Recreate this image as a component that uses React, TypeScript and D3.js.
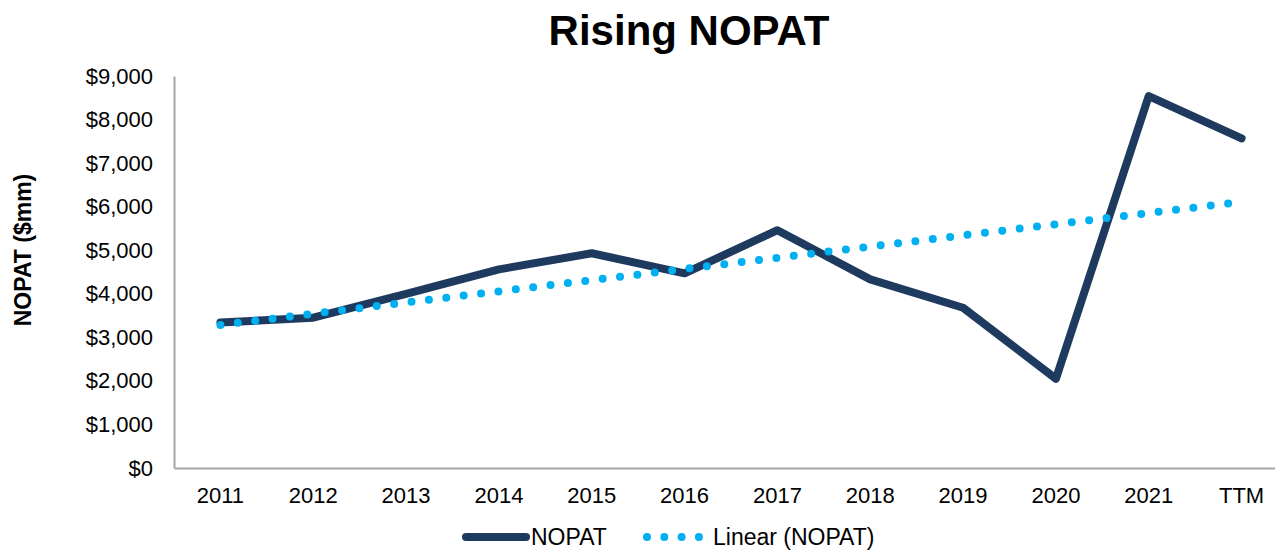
import React, { useEffect, useRef } from 'react';
import * as d3 from 'd3';

// NOPAT by fiscal year ($mm)
const years = ['2011', '2012', '2013', '2014', '2015', '2016', '2017', '2018', '2019', '2020', '2021', 'TTM'];
const nopat = [3340, 3450, 4000, 4560, 4930, 4470, 5460, 4330, 3680, 2050, 8540, 7570];
const yTicks = [0, 1000, 2000, 3000, 4000, 5000, 6000, 7000, 8000, 9000];

const W = 1275;
const H = 552;

const App = () => {
  const svgRef = useRef<SVGSVGElement>(null);

  useEffect(() => {
    const svg = d3.select(svgRef.current);
    svg.selectAll('*').remove();

    const left = 174;
    const right = 1288;
    const top = 76;
    const bottom = 468;
    const font = 'Liberation Sans, Arial, sans-serif';

    const x = d3.scaleBand().domain(years).range([left, right]);
    const cx = (d: string) => (x(d) as number) + x.bandwidth() / 2;
    const y = d3.scaleLinear().domain([0, 9000]).range([bottom, top]);

    // title
    svg.append('text')
      .attr('x', 689).attr('y', 45)
      .attr('text-anchor', 'middle')
      .attr('font-family', font).attr('font-weight', 'bold').attr('font-size', 42)
      .text('Rising NOPAT');

    // axes
    const yAxis = svg.append('g')
      .attr('transform', `translate(${left},0)`)
      .call(d3.axisLeft(y).tickValues(yTicks).tickSize(0).tickPadding(21)
        .tickFormat(d => '$' + d3.format(',')(d as number)));
    yAxis.select('.domain').attr('stroke', '#a6a6a6').attr('stroke-width', 2);
    yAxis.selectAll('text').attr('font-family', font).attr('font-size', 22).attr('fill', '#000');

    const xAxis = svg.append('g')
      .attr('transform', `translate(0,${bottom})`)
      .call(d3.axisBottom(x).tickSize(0).tickPadding(19));
    xAxis.select('.domain').attr('stroke', '#a6a6a6').attr('stroke-width', 2);
    xAxis.selectAll('text').attr('font-family', font).attr('font-size', 22).attr('fill', '#000');

    // y-axis title
    svg.append('text')
      .attr('transform', 'translate(31,250) rotate(-90)')
      .attr('text-anchor', 'middle')
      .attr('font-family', font).attr('font-weight', 'bold').attr('font-size', 23)
      .text('NOPAT ($mm)');

    // NOPAT line
    const line = d3.line<number>()
      .x((_, i) => cx(years[i]))
      .y(d => y(d));
    svg.append('path')
      .datum(nopat)
      .attr('d', line)
      .attr('fill', 'none')
      .attr('stroke', '#1f3a5f')
      .attr('stroke-width', 8)
      .attr('stroke-linejoin', 'round')
      .attr('stroke-linecap', 'round');

    // linear trendline (least squares on the NOPAT series)
    const idx = nopat.map((_, i) => i);
    const mx = d3.mean(idx) as number;
    const my = d3.mean(nopat) as number;
    const slope = d3.sum(idx, i => (i - mx) * (nopat[i] - my)) / d3.sum(idx, i => (i - mx) ** 2);
    const trend = idx.map(i => my + slope * (i - mx));
    svg.append('path')
      .datum(trend)
      .attr('d', line)
      .attr('fill', 'none')
      .attr('stroke', '#00b0f0')
      .attr('stroke-width', 8)
      .attr('stroke-linecap', 'round')
      .attr('stroke-dasharray', '0 17.5');

    // legend
    const lg = svg.append('g');
    lg.append('line')
      .attr('x1', 466).attr('x2', 526).attr('y1', 537).attr('y2', 537)
      .attr('stroke', '#1f3a5f').attr('stroke-width', 8).attr('stroke-linecap', 'round');
    lg.append('text')
      .attr('x', 531).attr('y', 545)
      .attr('font-family', font).attr('font-size', 23)
      .text('NOPAT');
    lg.append('line')
      .attr('x1', 647).attr('x2', 700).attr('y1', 537).attr('y2', 537)
      .attr('stroke', '#00b0f0').attr('stroke-width', 8).attr('stroke-linecap', 'round')
      .attr('stroke-dasharray', '0 17.3');
    lg.append('text')
      .attr('x', 713).attr('y', 545)
      .attr('font-family', font).attr('font-size', 23)
      .text('Linear (NOPAT)');
  }, []);

  return (
    <svg
      ref={svgRef}
      width={W}
      height={H}
      style={{ position: 'absolute', left: 0, top: 0, background: '#fff' }}
    />
  );
};

export default App;
